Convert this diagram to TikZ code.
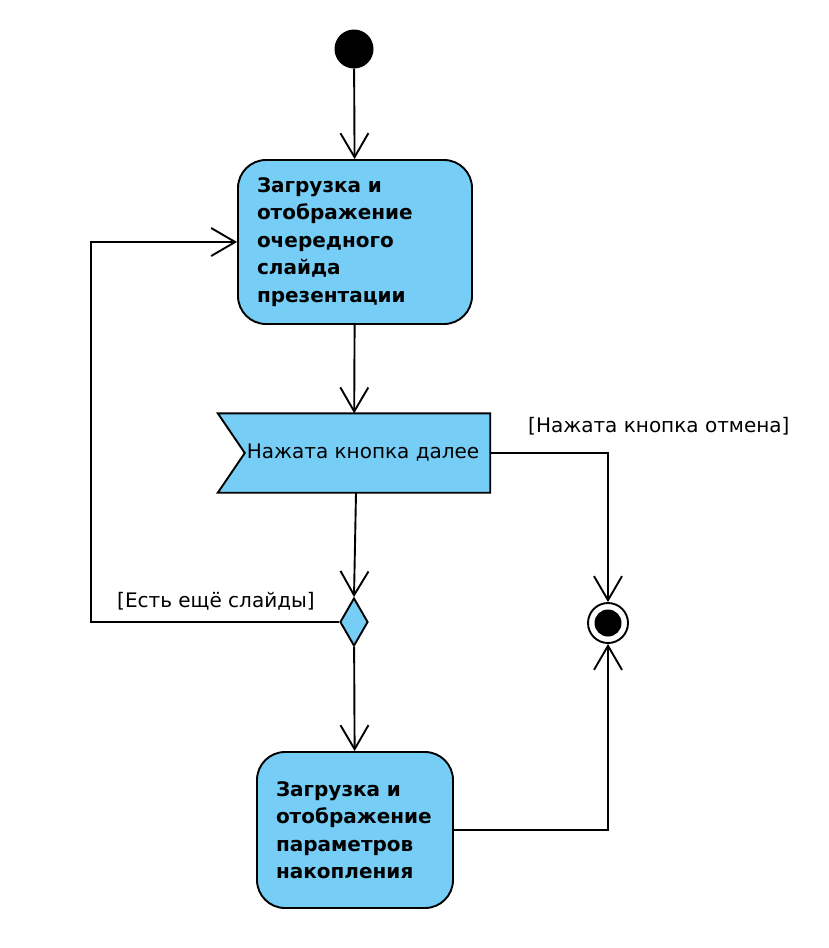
\documentclass[tikz,border=0pt]{standalone}
\usepackage{fontspec}
\setmainfont{DejaVu Sans}
\usetikzlibrary{arrows.meta,shapes.geometric,calc,backgrounds,positioning}
\definecolor{actblue}{RGB}{118,205,245}
\tikzset{action node/.style={rectangle,rounded corners=28pt,fill=actblue,draw,line width=1.9pt,
                             align=left,font=\fontsize{20}{27.5}\selectfont\bfseries,inner xsep=19pt},
         signal node/.style={rectangle,minimum width=272pt,minimum height=79pt,inner sep=0pt,
                             font=\fontsize{20}{24}\selectfont},
         signal shape/.style={fill=actblue,draw,line width=1.9pt,line join=miter},
         decision node/.style={diamond,fill=actblue,draw,line width=1.9pt,minimum width=28pt,minimum height=48pt,
                             inner sep=0pt,aspect=0.58},
         guard label/.style={rectangle,draw=none,fill=none,inner sep=0pt,font=\fontsize{20}{24}\selectfont},
         flow/.style={line width=1.9pt,-{Straight Barb[length=24pt,width=28pt,line width=1.9pt]}}
}
\begin{document}
\begin{tikzpicture}[x=1pt,y=-1pt]
\useasboundingbox (0,0) rectangle (828,948);
% nodes
\node[circle,fill=black,minimum size=39pt,inner sep=0pt] (start) at (354,49) {};
\node[action node,minimum width=234pt,minimum height=164pt,text width=196pt] (load) at (355,242)
    {Загрузка и\\отображение\\очередного\\слайда\\презентации};
\node[signal node] (next) at (354,453) {\hspace{18pt}\raisebox{-3pt}{Нажата кнопка далее}};
\begin{scope}[on background layer]
\draw[signal shape] (next.north west) -- (next.north east) -- (next.south east) -- (next.south west)
    -- ($(next.west)+(27,0)$) -- cycle;
\end{scope}
\node[decision node] (choice) at (354,622) {};
\node[action node,minimum width=196pt,minimum height=156pt,text width=158pt] (params) at (355,830)
    {Загрузка и\\отображение\\параметров\\накопления};
\node[circle,draw,line width=1.9pt,fill=white,minimum size=40pt,inner sep=0pt] (final) at (608,623) {};
\node[circle,fill=black,minimum size=27pt,inner sep=0pt] at (final) {};
\coordinate (loopcorner) at (91,622);
% guards
\node[guard label,anchor=base west] (more) at (117,607) {[Есть ещё слайды]};
\node[guard label,anchor=base west] (cancel) at (528,432) {[Нажата кнопка отмена]};
% edges
\draw[flow] (start) -- (load);
\draw[flow] (load) -- (next);
\draw[flow] (next.south) ++(2,0) -- (choice.north);
\draw[flow] (choice) -- (params);
\draw[flow] (choice.west) -- (loopcorner) |- (load.west);
\draw[flow] (next.east) -| (final.north);
\draw[flow] (params.east) -| (final.south);
\end{tikzpicture}
\end{document}
